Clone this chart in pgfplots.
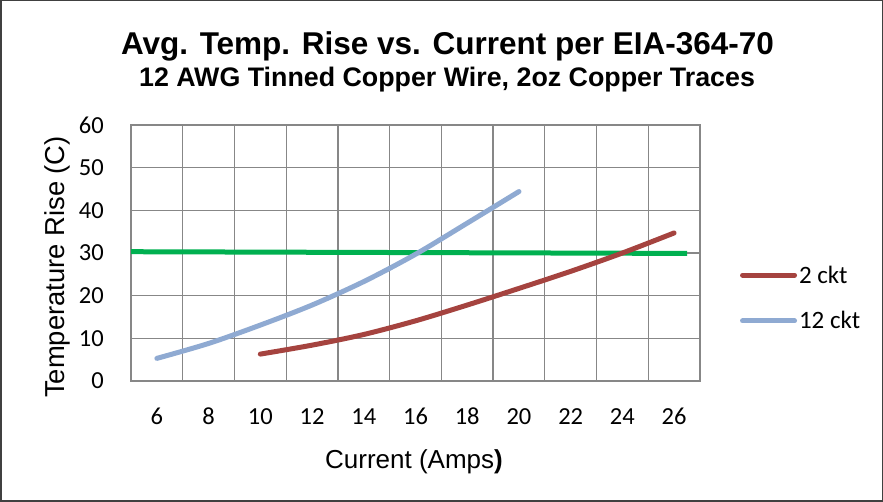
\documentclass[border=0pt]{standalone}
\usepackage{fontspec}
\setmainfont{Liberation Sans}
\newfontfamily\carlito{Carlito}
\usepackage{pgfplots}
\pgfplotsset{compat=1.18}
\definecolor{redc}{HTML}{A5433F}
\definecolor{bluec}{HTML}{8FAAD2}
\definecolor{greenc}{HTML}{00B050}
\definecolor{gridc}{HTML}{878787}
\begin{document}
\begin{tikzpicture}[x=1pt,y=1pt]
\path[use as bounding box] (0,0) rectangle (883,502);
\draw[draw=black!75, line width=1.5pt] (0.75,0.75) rectangle (882.25,501.25);
\node[font=\bfseries\fontsize{31.5}{31.5}\selectfont, anchor=base, inner sep=0pt] at (447.5,502-55) {Avg. Temp. Rise vs. Current per EIA-364-70};
\node[font=\bfseries\fontsize{26.8}{26.8}\selectfont, anchor=base, inner sep=0pt] at (447,502-87) {12 AWG Tinned Copper Wire, 2oz Copper Traces};
\node[font=\fontsize{27.4}{27.4}\selectfont, rotate=90, inner sep=0pt] at (57,235) {Temperature Rise (C)};
\node[font=\fontsize{26}{26}\selectfont, inner sep=0pt, anchor=base] at (414,502-469) {Current (Amps\textbf{)}};
\begin{axis}[
  at={(131pt,121pt)}, anchor=south west, scale only axis,
  width=569pt, height=256pt,
  xmin=5, xmax=27, ymin=0, ymax=60,
  xtick={6,8,...,26}, minor xtick={5,7,...,27},
  ytick={0,10,...,60},
  xminorgrids=true, ymajorgrids=true, xmajorgrids=false,
  grid style={gridc, line width=1.3pt},
  minor grid style={gridc, line width=1.3pt},
  axis line style={gridc, line width=1.3pt},
  major tick length=0pt, minor tick length=0pt,
  /pgf/number format/assume math mode=true,
  ticklabel style={font=\carlito\fontsize{24.5}{24.5}\selectfont, inner sep=0pt},
  yticklabel style={anchor=east, xshift=-27pt},
  xticklabel style={anchor=base, yshift=-44pt},
  legend style={draw=none, fill=none, at={(1.07,0.324)}, anchor=west,
    font=\carlito\fontsize{25}{25}\selectfont, row sep=23pt, inner sep=0pt},
  legend cell align=left,
  legend image code/.code={\draw[#1, line cap=round] (0pt,0pt) -- (52pt,0pt);},
]
\addplot[greenc, line width=5pt, forget plot] coordinates {(5,30.3) (26.5,29.9)};
\addplot[redc, line width=5pt, line cap=round, smooth] coordinates {
 (10,6.3) (12,8.4) (14,10.9) (16,14.1) (18,17.8) (20,21.7) (22,25.7) (24,30.0) (26,34.7)};
\addlegendentry{2 ckt}
\addplot[bluec, line width=5pt, line cap=round, smooth] coordinates {
 (6,5.3) (8,8.8) (10,13.1) (12,17.8) (14,23.3) (16,29.7) (18,37.0) (20,44.4)};
\addlegendentry{12 ckt}
\end{axis}
\end{tikzpicture}
\end{document}
